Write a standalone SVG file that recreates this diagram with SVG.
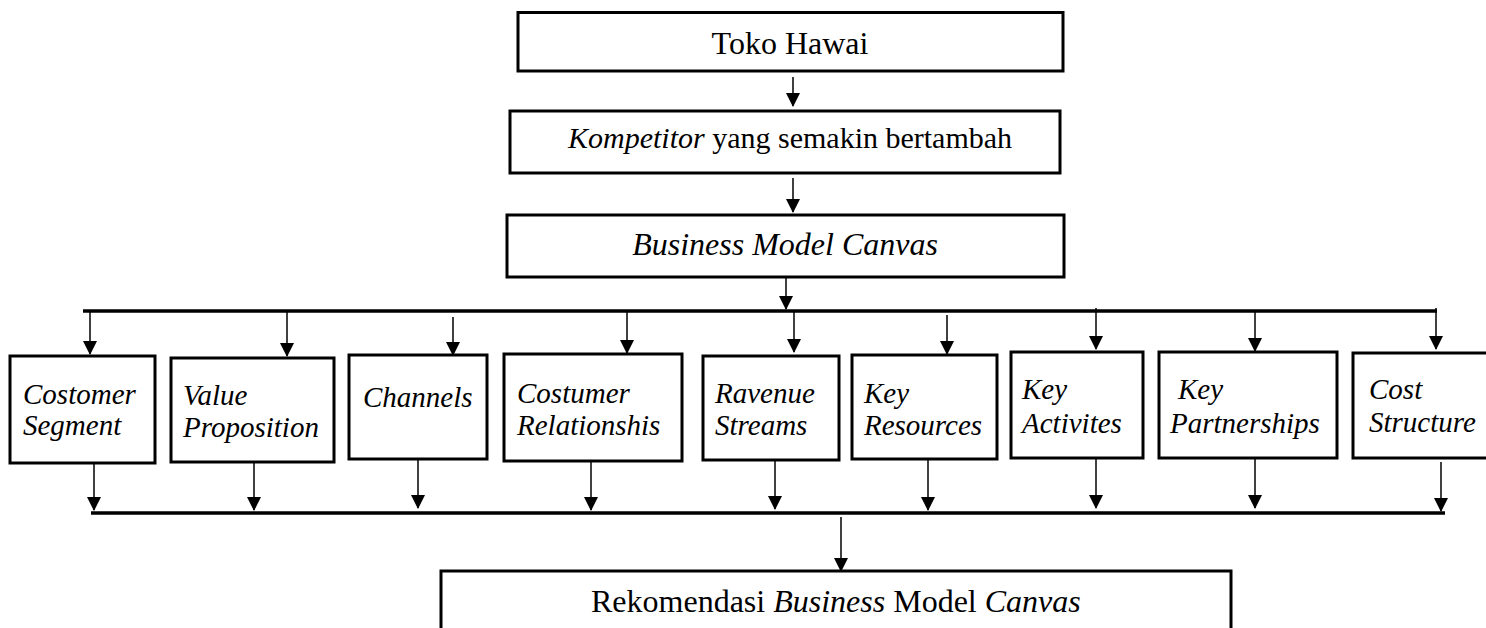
<svg xmlns="http://www.w3.org/2000/svg" width="1486" height="628" viewBox="0 0 1486 628">
<style>
.box{fill:#fff;stroke:#000;stroke-width:3}
.t{font-family:"Liberation Serif","Times New Roman",serif;fill:#000}
.n{font-family:"Liberation Serif","Times New Roman",serif;font-style:italic;font-size:29px;fill:#000}
.i{font-style:italic}
.c{stroke:#000;stroke-width:1.5;fill:none;marker-end:url(#ah)}
.bus{stroke:#000;stroke-width:3.5;fill:none}
</style>
<defs>
<marker id="ah" markerUnits="userSpaceOnUse" markerWidth="14" markerHeight="14" refX="13" refY="7" orient="auto">
<path d="M0,0 L14,7 L0,14 z" fill="#000"/>
</marker>
</defs>
<rect width="1486" height="628" fill="#fff"/>
<g id="connectors">
<line class="c" x1="793" y1="77" x2="793" y2="106"/>
<line class="c" x1="793" y1="178" x2="793" y2="212"/>
<line class="c" x1="786" y1="277" x2="786" y2="309"/>
<line class="bus" x1="83" y1="311" x2="1437" y2="311"/>
<line class="c" x1="90" y1="311" x2="90" y2="354"/>
<line class="c" x1="287" y1="311" x2="287" y2="356"/>
<line class="c" x1="453" y1="317" x2="453" y2="355"/>
<line class="c" x1="627" y1="311" x2="627" y2="353"/>
<line class="c" x1="794" y1="311" x2="794" y2="352"/>
<line class="c" x1="947" y1="315" x2="947" y2="354"/>
<line class="c" x1="1096" y1="308" x2="1096" y2="349"/>
<line class="c" x1="1255" y1="311" x2="1255" y2="351"/>
<line class="c" x1="1436" y1="308" x2="1436" y2="349"/>
<line class="c" x1="94" y1="463" x2="94" y2="510"/>
<line class="c" x1="254" y1="462" x2="254" y2="510"/>
<line class="c" x1="418" y1="459" x2="418" y2="508"/>
<line class="c" x1="591" y1="461" x2="591" y2="510"/>
<line class="c" x1="775" y1="460" x2="775" y2="509"/>
<line class="c" x1="928" y1="459" x2="928" y2="510"/>
<line class="c" x1="1096" y1="458" x2="1096" y2="508"/>
<line class="c" x1="1255" y1="458" x2="1255" y2="508"/>
<line class="c" x1="1441" y1="462" x2="1441" y2="511"/>
<line class="bus" x1="91" y1="513" x2="1445" y2="513"/>
<line class="c" x1="841" y1="517" x2="841" y2="571"/>
</g>
<g id="toko">
<rect class="box" x="518" y="12.5" width="545" height="58.5"/>
<text class="t" x="790" y="54" font-size="32" text-anchor="middle">Toko Hawai</text>
</g>
<g id="kompetitor">
<rect class="box" x="510" y="111" width="550" height="62"/>
<text class="t" x="568" y="148" font-size="30"><tspan class="i">Kompetitor</tspan> yang semakin bertambah</text>
</g>
<g id="bmc">
<rect class="box" x="507" y="215" width="557" height="62"/>
<text class="t i" x="785" y="255" font-size="32" text-anchor="middle">Business Model Canvas</text>
</g>
<g id="costomer-segment">
<rect class="box" x="10" y="356" width="145" height="107"/>
<text class="n" x="23" y="404">Costomer</text>
<text class="n" x="23" y="435">Segment</text>
</g>
<g id="value-proposition">
<rect class="box" x="171" y="358" width="163" height="104"/>
<text class="n" x="183" y="405">Value</text>
<text class="n" x="183" y="437">Proposition</text>
</g>
<g id="channels">
<rect class="box" x="349" y="355" width="138" height="104"/>
<text class="n" x="363" y="407">Channels</text>
</g>
<g id="costumer-relationshis">
<rect class="box" x="504" y="354" width="178" height="107"/>
<text class="n" x="517" y="403">Costumer</text>
<text class="n" x="517" y="435">Relationshis</text>
</g>
<g id="ravenue-streams">
<rect class="box" x="703" y="356" width="136" height="104"/>
<text class="n" x="715" y="403">Ravenue</text>
<text class="n" x="715" y="435">Streams</text>
</g>
<g id="key-resources">
<rect class="box" x="852" y="355" width="145" height="104"/>
<text class="n" x="864" y="403">Key</text>
<text class="n" x="864" y="435">Resources</text>
</g>
<g id="key-activites">
<rect class="box" x="1011" y="352" width="132" height="106"/>
<text class="n" x="1022" y="399">Key</text>
<text class="n" x="1022" y="433">Activites</text>
</g>
<g id="key-partnerships">
<rect class="box" x="1159" y="352" width="178" height="106"/>
<text class="n" x="1178" y="399">Key</text>
<text class="n" x="1170" y="433">Partnerships</text>
</g>
<g id="cost-structure">
<rect class="box" x="1353" y="353" width="140" height="105"/>
<text class="n" x="1369" y="399">Cost</text>
<text class="n" x="1369" y="432">Structure</text>
</g>
<g id="rekomendasi">
<rect class="box" x="441" y="571" width="790" height="70"/>
<text class="t" x="591" y="612" font-size="32">Rekomendasi <tspan class="i">Business</tspan> Model <tspan class="i">Canvas</tspan></text>
</g>
</svg>
